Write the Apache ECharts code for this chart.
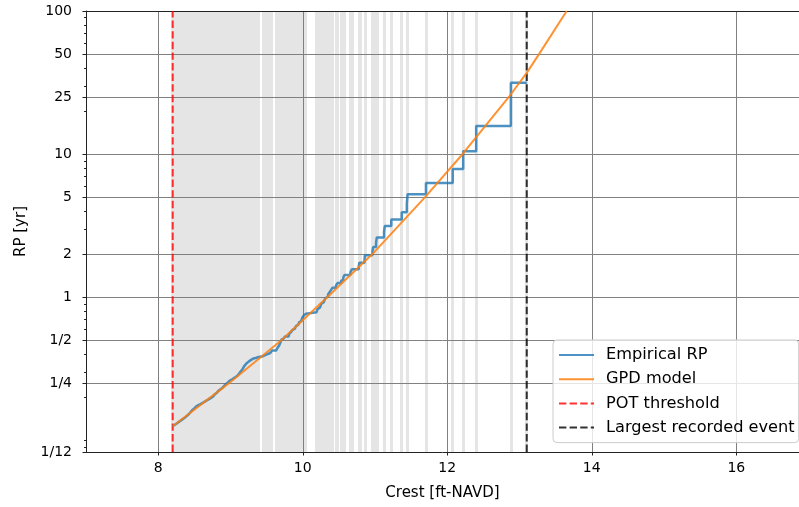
<!DOCTYPE html>
<html>
<head>
<meta charset="utf-8">
<script src="https://cdn.jsdelivr.net/npm/echarts@6/dist/echarts.min.js"></script>
<style>
  html, body { margin: 0; padding: 0; background: #ffffff; }
  #chart { width: 799px; height: 507px; }
</style>
</head>
<body>
<div id="chart"></div>
<script>
// Peaks-over-threshold events: crest elevation [ft-NAVD], largest first (rank 1, 2, 3, ...)
const eventCrests = [
  13.10, 12.88, 12.40, 12.22, 12.075, 11.705, 11.45, 11.44, 11.37, 11.225,
  11.135, 11.125, 11.025, 11.015, 10.975, 10.965, 10.86, 10.855, 10.785, 10.775,
  10.68, 10.66, 10.575, 10.56, 10.53, 10.48, 10.46, 10.41, 10.39, 10.37,
  10.35, 10.33, 10.31, 10.29, 10.27, 10.255, 10.24, 10.22, 10.205, 10.19,
  10.045, 10.03, 10.015, 10.005, 9.99, 9.98, 9.965, 9.95, 9.935, 9.92,
  9.905, 9.89, 9.875, 9.86, 9.85, 9.835, 9.825, 9.81, 9.805, 9.755,
  9.735, 9.72, 9.705, 9.70, 9.695, 9.69, 9.685, 9.68, 9.675, 9.67,
  9.665, 9.65, 9.645, 9.63, 9.575, 9.565, 9.55, 9.52, 9.495, 9.47,
  9.45, 9.39, 9.36, 9.32, 9.30, 9.285, 9.27, 9.255, 9.24, 9.23,
  9.22, 9.21, 9.20, 9.195, 9.19, 9.185, 9.18, 9.175, 9.17, 9.165,
  9.16, 9.155, 9.15, 9.145, 9.14, 9.13, 9.125, 9.12, 9.115, 9.108,
  9.095, 9.085, 9.07, 9.06, 9.05, 9.04, 9.03, 9.015, 9.00, 8.99,
  8.98, 8.97, 8.965, 8.96, 8.95, 8.945, 8.94, 8.93, 8.925, 8.92,
  8.91, 8.905, 8.90, 8.89, 8.885, 8.88, 8.87, 8.86, 8.855, 8.85,
  8.84, 8.835, 8.83, 8.82, 8.815, 8.81, 8.80, 8.795, 8.79, 8.785,
  8.78, 8.775, 8.77, 8.765, 8.76, 8.75, 8.74, 8.735, 8.725, 8.715,
  8.71, 8.70, 8.69, 8.68, 8.67, 8.665, 8.655, 8.645, 8.635, 8.63,
  8.62, 8.61, 8.60, 8.59, 8.585, 8.575, 8.565, 8.555, 8.55, 8.545,
  8.54, 8.53, 8.525, 8.52, 8.515, 8.51, 8.505, 8.50, 8.495, 8.49,
  8.485, 8.48, 8.475, 8.47, 8.465, 8.46, 8.455, 8.45, 8.45, 8.445,
  8.445, 8.44, 8.44, 8.435, 8.43, 8.425, 8.42, 8.415, 8.41, 8.405,
  8.40, 8.395, 8.39, 8.385, 8.38, 8.375, 8.37, 8.365, 8.36, 8.355,
  8.35, 8.345, 8.34, 8.335, 8.33, 8.325, 8.32, 8.315, 8.31, 8.30,
  8.295, 8.29, 8.285, 8.28, 8.275, 8.27, 8.265, 8.26, 8.255, 8.25,
  8.245, 8.24, 8.235, 8.23, 8.225, 8.22, 8.215, 8.21, 8.205, 8.20
];
// Length of record [yr] used for the empirical return period (record / rank)
const recordYears = 31.5;
const potThreshold = 8.2;
const largestEvent = 13.10;

// Fitted GPD return-period curve
const gpdCrest = [8.20, 8.97, 9.70, 10.335, 10.96, 11.69, 12.21, 12.85, 13.10, 13.27, 13.653];
const gpdRP    = [0.126, 0.25, 0.5, 1, 2, 5, 10, 25, 37, 50, 100];

// Axes
const xTickValues = [8, 10, 12, 14, 16];
const yTickValues = [1 / 12, 1 / 4, 1 / 2, 1, 2, 5, 10, 25, 50, 100];
const yTickLabels = ['1/12', '1/4', '1/2', '1', '2', '5', '10', '25', '50', '100'];
const yMinorTicks = [0.09, 0.1, 0.2, 0.3, 0.4, 0.6, 0.7, 0.8, 0.9, 3, 4, 6, 7, 8, 9, 20, 30, 40, 60, 70, 80, 90];
const xRange = [7, 16.868];
const yRange = [1 / 12, 100];

const FONT = 'DejaVu Sans';
const lg = Math.log10;

// Return period axis is logarithmic: the y scale works in log10(RP)
const yMin = lg(yRange[0]);
const yMax = lg(yRange[1]);

const empirical = eventCrests
  .map((c, i) => [c, lg(recordYears / (i + 1))])
  .reverse();
const gpd = gpdCrest.map((c, i) => [c, lg(gpdRP[i])]);

function yLabel(v) {
  let best = 0, d = Infinity;
  yTickValues.forEach((t, i) => {
    const e = Math.abs(lg(t) - v);
    if (e < d) { d = e; best = i; }
  });
  return yTickLabels[best];
}

const chart = echarts.init(document.getElementById('chart'), null, { renderer: 'canvas' });

const axisLineStyle = { color: '#222222', width: 1 };
const clear = 'rgba(0,0,0,0)';

chart.setOption({
  animation: false,
  backgroundColor: '#ffffff',
  textStyle: { fontFamily: FONT },
  grid: { left: 86, right: 0, top: 11, bottom: 55, containLabel: false },
  xAxis: [
    {
      type: 'value', min: xRange[0], max: xRange[1], position: 'bottom', z: 2,
      axisLine: { show: true, onZero: false, lineStyle: axisLineStyle },
      axisTick: { show: true, customValues: xTickValues, length: 3.5, lineStyle: axisLineStyle },
      axisLabel: { customValues: xTickValues, margin: 9, fontSize: 14, color: '#000', fontFamily: FONT },
      splitLine: { show: false },
      name: 'Crest [ft-NAVD]', nameLocation: 'middle', nameGap: 34,
      nameTextStyle: { fontSize: 15, color: '#000', fontFamily: FONT }
    },
    {
      type: 'value', min: xRange[0], max: xRange[1], position: 'top', z: 2,
      axisLine: { show: true, onZero: false, lineStyle: axisLineStyle },
      axisTick: { show: false }, axisLabel: { show: false }, splitLine: { show: false }
    }
  ],
  yAxis: [
    {
      type: 'value', min: yMin, max: yMax, position: 'left', z: 2,
      axisLine: { show: true, onZero: false, lineStyle: axisLineStyle },
      axisTick: { show: true, customValues: yTickValues.map(lg), length: 3.5, lineStyle: axisLineStyle },
      axisLabel: {
        customValues: yTickValues.map(lg), margin: 14, fontSize: 14, color: '#000', fontFamily: FONT,
        formatter: yLabel
      },
      splitLine: { show: false },
      name: 'RP [yr]', nameLocation: 'middle', nameGap: 57, nameRotate: 90,
      nameTextStyle: { fontSize: 15, color: '#000', fontFamily: FONT }
    },
    {
      type: 'value', min: yMin, max: yMax, position: 'left', z: 2,
      axisLine: { show: false },
      axisTick: { show: true, customValues: yMinorTicks.map(lg), length: 2, lineStyle: axisLineStyle },
      axisLabel: { show: false }, splitLine: { show: false }
    }
  ],
  legend: {
    orient: 'vertical', left: 553, top: 340,
    data: ['Empirical RP', 'GPD model', 'POT threshold', 'Largest recorded event'],
    itemWidth: 35, itemHeight: 18, itemGap: 6.2,
    padding: [6, 4, 6, 5],
    backgroundColor: 'rgba(255,255,255,0.8)',
    borderColor: '#cccccc', borderWidth: 1, borderRadius: 4,
    itemStyle: { color: clear, borderColor: clear, borderWidth: 0 },
    textStyle: { fontSize: 16.2, color: '#000', fontFamily: FONT, lineHeight: 18, padding: [0, 0, 0, 7] },
    z: 6,
    selectedMode: false
  },
  series: [
    {
      name: 'events', type: 'line', data: [], silent: true,
      markLine: {
        silent: true, symbol: 'none', z: 0, animation: false,
        label: { show: false },
        lineStyle: { color: '#e5e5e5', width: 3, type: 'solid' },
        emphasis: { disabled: true },
        data: eventCrests.map(c => ({ xAxis: c }))
      }
    },
    {
      name: 'grid', type: 'line', data: [], silent: true,
      markLine: {
        silent: true, symbol: 'none', z: 1, animation: false,
        label: { show: false },
        lineStyle: { color: '#808080', width: 1, type: 'solid' },
        emphasis: { disabled: true },
        data: xTickValues.map(v => ({ xAxis: v })).concat(yTickValues.map(v => ({ yAxis: lg(v) })))
      }
    },
    {
      name: 'POT threshold', type: 'line', z: 3, symbol: 'none', silent: true,
      data: [[potThreshold, yMin], [potThreshold, yMax]],
      lineStyle: { color: 'rgba(255,0,0,0.8)', width: 2, type: [7.4, 3.2] },
      itemStyle: { color: 'rgba(255,0,0,0.8)' }
    },
    {
      name: 'Largest recorded event', type: 'line', z: 3, symbol: 'none', silent: true,
      data: [[largestEvent, yMin], [largestEvent, yMax]],
      lineStyle: { color: 'rgba(0,0,0,0.8)', width: 2, type: [7.4, 3.2] },
      itemStyle: { color: 'rgba(0,0,0,0.8)' }
    },
    {
      name: 'Empirical RP', type: 'line', z: 4, symbol: 'none', silent: true,
      step: 'start',
      data: empirical,
      lineStyle: { color: 'rgba(31,119,180,0.8)', width: 2.5 },
      itemStyle: { color: 'rgba(31,119,180,0.8)' }
    },
    {
      name: 'GPD model', type: 'line', z: 5, symbol: 'none', silent: true,
      smooth: false,
      data: gpd,
      lineStyle: { color: 'rgba(255,127,14,0.85)', width: 2 },
      itemStyle: { color: 'rgba(255,127,14,0.85)' }
    }
  ]
});
</script>
</body>
</html>
